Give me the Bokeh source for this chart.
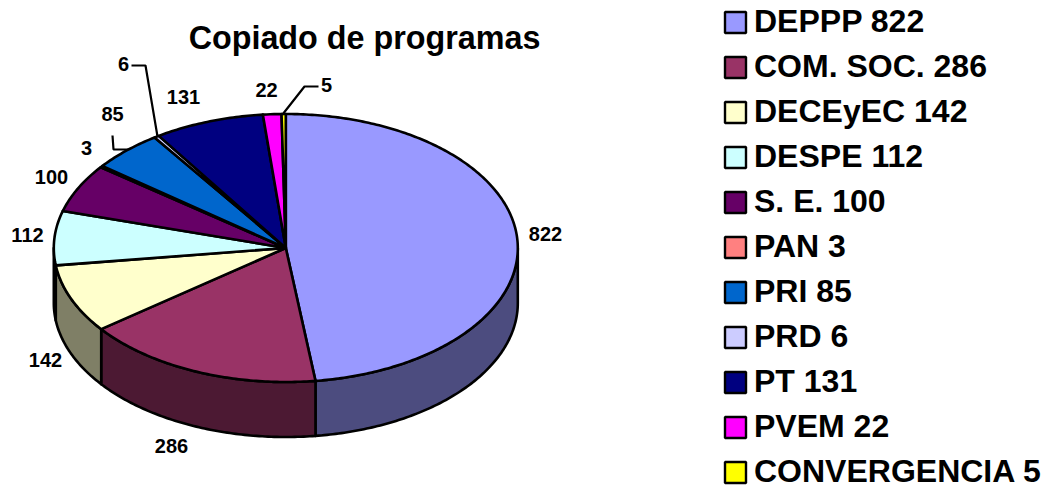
import numpy as np
from bokeh.plotting import figure
from bokeh.core.properties import value
from bokeh.embed import file_html
from bokeh.resources import INLINE

title = "Copiado de programas"
categories = ["DEPPP", "COM. SOC.", "DECEyEC", "DESPE", "S. E.", "PAN", "PRI", "PRD", "PT", "PVEM", "CONVERGENCIA"]
values = [822, 286, 142, 112, 100, 3, 85, 6, 131, 22, 5]
colors = ["#9999FF", "#993366", "#FFFFCC", "#CCFFFF", "#660066", "#FF8080", "#0066CC", "#CCCCFF", "#000080", "#FF00FF", "#FFFF00"]

# layout (page pixels)
WIDTH, HEIGHT = 1042, 485
CX, CY, RX, RY, DEPTH = 285.3, 247.5, 232, 134, 55
FONT = value("Liberation Sans")

label_x = [545, 171, 45, 27, 51, 86, 112, 123, 183, 266, 326]
label_y = [233.5, 445.5, 359.5, 234.5, 176.5, 147.5, 113.5, 63.5, 96.5, 89.5, 84.5]
leaders = [([131, 145, 157], [65, 65, 136]), ([112, 113, 128], [135, 149, 149]), ([318, 304, 282], [86, 86, 114])]

p = figure(width=WIDTH, height=HEIGHT, x_range=(0, WIDTH), y_range=(HEIGHT, 0),
           x_axis_type=None, y_axis_type=None, toolbar_location=None,
           output_backend="svg", min_border=0, outline_line_color=None)
p.grid.visible = False

vals = np.array(values, dtype=float)
edges = np.concatenate([[0], np.cumsum(vals)]) / vals.sum() * 2 * np.pi


def rim(a0, a1, dy=0.0):
    t = np.linspace(a0, a1, max(2, int((a1 - a0) * 80)))
    return CX + RX * np.sin(t), CY - RY * np.cos(t) + dy


def darker(h):
    return "#" + "".join(f"{int(h[i:i+2], 16) // 2:02X}" for i in (1, 3, 5))


# sides: only the front half of the rim shows
for a0, a1, c in zip(edges[:-1], edges[1:], colors):
    s0, s1 = max(a0, np.pi / 2), min(a1, 3 * np.pi / 2)
    if s1 <= s0:
        continue
    xt, yt = rim(s0, s1)
    xb, yb = rim(s0, s1, DEPTH)
    p.patch(np.r_[xt, xb[::-1]], np.r_[yt, yb[::-1]], fill_color=darker(c),
            line_color="black", line_width=2.6, line_join="round")

# top
for a0, a1, c in zip(edges[:-1], edges[1:], colors):
    x, y = rim(a0, a1)
    p.patch(np.r_[CX, x], np.r_[CY, y], fill_color=c, line_color="black", line_width=2.6, line_join="round")

for lx, ly in leaders:
    p.line(lx, ly, line_color="black", line_width=2.2)

p.text(label_x, label_y, text=[str(v) for v in values], text_font=FONT, text_font_style="bold",
       text_font_size="20px", text_align="center", text_baseline="middle", text_color="black")

p.text([364], [37], text=[title], text_font=FONT, text_font_style="bold", text_font_size="32.3px",
       text_align="center", text_baseline="middle", text_color="black")

# legend
rows = 22 + 45 * np.arange(len(values))
p.rect([735] * len(values), rows, width=21, height=21, fill_color=colors, line_color="black", line_width=2.4)
p.text([753.5] * len(values), rows - 1.5, text=[f"{c} {v}" for c, v in zip(categories, values)], text_font=FONT,
       text_font_style="bold", text_font_size="32px", text_align="left", text_baseline="middle", text_color="black")

open("out.html", "w").write(file_html(p, INLINE))
